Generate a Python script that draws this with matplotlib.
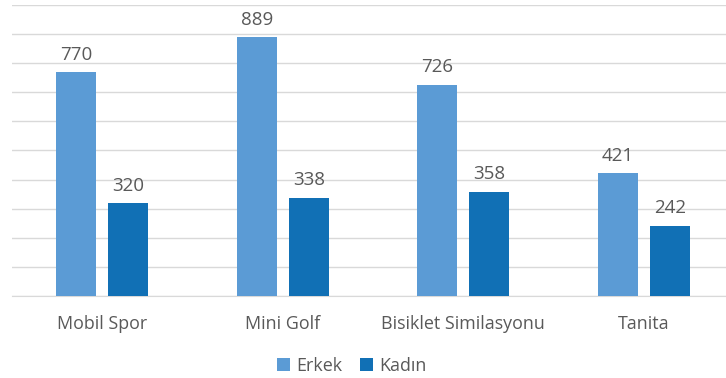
import matplotlib
matplotlib.use("Agg")
import matplotlib.pyplot as plt
import numpy as np

categories = ["Mobil Spor", "Mini Golf", "Bisiklet Similasyonu", "Tanita"]
erkek = [770, 889, 726, 421]
kadin = [320, 338, 358, 242]

plt.rcParams["font.family"] = ["Open Sans", "DejaVu Sans"]

fig = plt.figure(figsize=(7.26, 3.78), dpi=100)
ax = fig.add_axes([12 / 726, 1 - 296 / 378, 714 / 726, 291 / 378])

x = np.arange(len(categories))
w = 0.222
off = 0.144
c_erkek = "#5B9BD5"
c_kadin = "#1170B5"
b1 = ax.bar(x - off, erkek, w, color=c_erkek, label="Erkek", zorder=3)
b2 = ax.bar(x + off, kadin, w, color=c_kadin, label="Kadın", zorder=3)

for bars, vals in ((b1, erkek), (b2, kadin)):
    for r, v in zip(bars, vals):
        ax.annotate(str(v), (r.get_x() + r.get_width() / 2, v),
                    xytext=(0, 6), textcoords="offset points",
                    ha="center", va="bottom", fontsize=13.5, color="#595959")

ax.set_ylim(0, 1000)
ax.set_xlim(-0.5, 3.456)
ax.set_yticks(np.arange(0, 1001, 100))
ax.yaxis.grid(True, color="#D9D9D9", linewidth=1, zorder=0)
ax.tick_params(axis="y", left=False, labelleft=False)
ax.tick_params(axis="x", bottom=False, pad=10, labelsize=12.9, labelcolor="#595959")
ax.set_xticks(x)
ax.set_xticklabels(categories)
for s in ("top", "right", "left"):
    ax.spines[s].set_visible(False)
ax.spines["bottom"].set_color("#D9D9D9")

leg = fig.legend(loc="center", bbox_to_anchor=(352 / 726, 1 - 366 / 378), ncol=2,
                 frameon=False, fontsize=12.9, handlelength=0.7, handleheight=0.7,
                 handletextpad=0.35, columnspacing=1.0)
for t in leg.get_texts():
    t.set_color("#595959")

fig.savefig("out.png", dpi=100)
